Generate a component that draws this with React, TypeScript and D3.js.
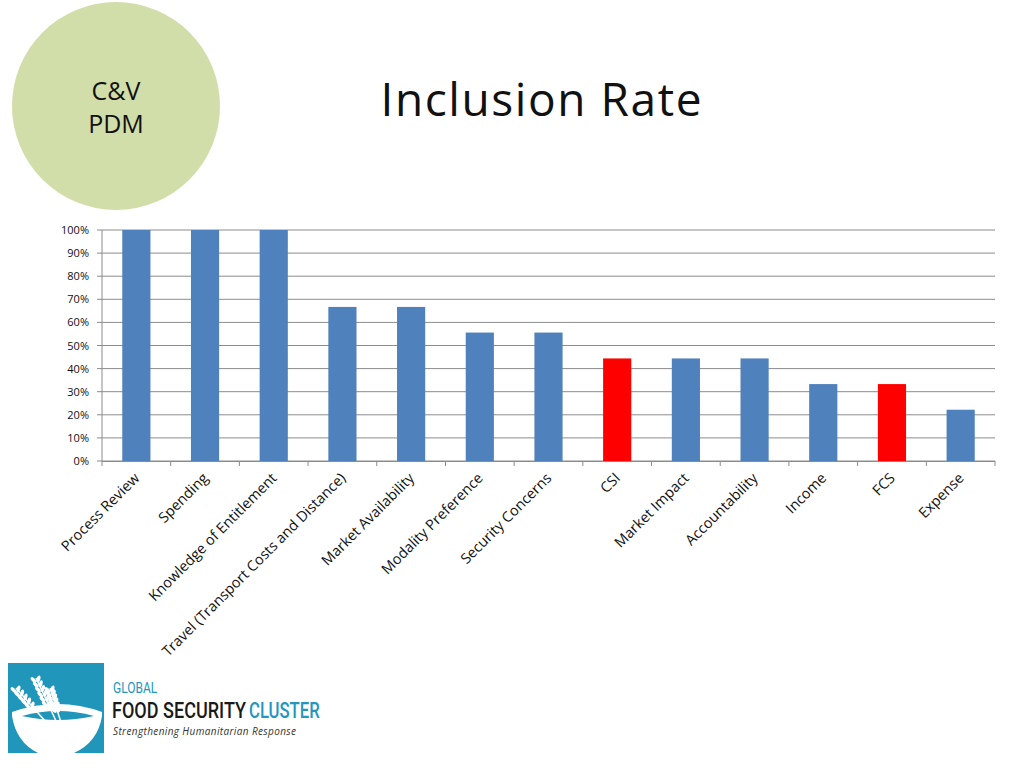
import React, { useEffect, useRef } from 'react';
import * as d3 from 'd3';

const categories = [
  'Process Review', 'Spending', 'Knowledge of Entitlement',
  'Travel (Transport Costs and Distance)', 'Market Availability',
  'Modality Preference', 'Security Concerns', 'CSI', 'Market Impact',
  'Accountability', 'Income', 'FCS', 'Expense',
];
const inclusionRate = [1, 1, 1, 0.667, 0.667, 0.556, 0.556, 0.444, 0.444, 0.444, 0.333, 0.333, 0.222];
const highlighted = ['CSI', 'FCS'];
const yTicks = [0, 0.1, 0.2, 0.3, 0.4, 0.5, 0.6, 0.7, 0.8, 0.9, 1];

const W = 1024;
const H = 768;
const FONT = 'Open Sans, Noto Sans, sans-serif';

const App: React.FC = () => {
  const svgRef = useRef<SVGSVGElement>(null);

  useEffect(() => {
    if (!svgRef.current) return;
    const svg = d3.select(svgRef.current);
    svg.selectAll('*').remove();

    // badge circle
    svg.append('circle').attr('cx', 116).attr('cy', 106).attr('r', 104).attr('fill', '#d2dea9');
    svg.append('text').attr('x', 116).attr('y', 100).attr('text-anchor', 'middle')
      .attr('font-family', FONT).attr('font-size', 25).attr('fill', '#111').text('C&V');
    svg.append('text').attr('x', 116).attr('y', 133).attr('text-anchor', 'middle')
      .attr('font-family', FONT).attr('font-size', 25).attr('fill', '#111').text('PDM');

    // title
    svg.append('text').attr('x', 541).attr('y', 116).attr('text-anchor', 'middle')
      .attr('font-family', FONT).attr('font-size', 46).attr('textLength', 321).attr('fill', '#111')
      .text('Inclusion Rate');

    // chart
    const left = 102, right = 995, top = 230, bottom = 461;
    const x = d3.scaleBand<string>().domain(categories).range([left, right]).paddingInner(0.59).paddingOuter(0.295);
    const xOuter = d3.scaleBand<string>().domain(categories).range([left, right]);
    const y = d3.scaleLinear().domain([0, 1]).range([bottom, top]);

    const g = svg.append('g');

    // gridlines + y ticks
    g.selectAll('line.grid').data(yTicks).join('line')
      .attr('x1', left - 5).attr('x2', right)
      .attr('y1', d => y(d)).attr('y2', d => y(d))
      .attr('stroke', '#8c8c8c').attr('stroke-width', 1);

    g.selectAll('text.ylab').data(yTicks).join('text')
      .attr('x', left - 13).attr('y', d => y(d) + 4)
      .attr('text-anchor', 'end').attr('font-family', FONT).attr('font-size', 11).attr('fill', '#111')
      .text(d => d3.format('.0%')(d));

    // y axis line
    g.append('line').attr('x1', left).attr('x2', left).attr('y1', top).attr('y2', bottom)
      .attr('stroke', '#8c8c8c');

    // bars
    g.selectAll('rect.bar').data(categories).join('rect')
      .attr('x', d => x(d)!)
      .attr('y', (d, i) => y(inclusionRate[i]))
      .attr('width', x.bandwidth())
      .attr('height', (d, i) => bottom - y(inclusionRate[i]))
      .attr('fill', d => (highlighted.includes(d) ? '#ff0000' : '#4f81bd'));

    // x axis ticks
    const bounds = categories.map(c => xOuter(c)!).concat([right]);
    g.selectAll('line.xtick').data(bounds).join('line')
      .attr('x1', d => d).attr('x2', d => d).attr('y1', bottom).attr('y2', bottom + 5)
      .attr('stroke', '#8c8c8c');
    g.append('line').attr('x1', left).attr('x2', right).attr('y1', bottom + 0.5).attr('y2', bottom + 0.5)
      .attr('stroke', '#8c8c8c');

    // x labels
    g.selectAll('text.xlab').data(categories).join('text')
      .attr('transform', d => `translate(${xOuter(d)! + xOuter.bandwidth() / 2 + 4},${bottom + 18}) rotate(-45)`)
      .attr('text-anchor', 'end').attr('font-family', FONT).attr('font-size', 14.5).attr('fill', '#111')
      .text(d => d);

    // logo
    const logo = svg.append('g');
    logo.append('rect').attr('x', 8).attr('y', 663).attr('width', 96).attr('height', 90).attr('fill', '#1f96ba');
    // bowl
    logo.append('path')
      .attr('d', 'M12,712 Q58,696 102,712 L102,716 Q98,742 74,753 L38,753 Q16,742 12,716 Z')
      .attr('fill', '#ffffff');
    logo.append('path')
      .attr('d', 'M22,716 Q58,706 94,716 Q58,724 22,716 Z')
      .attr('fill', '#1f96ba');
    // wheat stalks
    const stalks = [
      { x1: 16, y1: 688, x2: 60, y2: 738 },
      { x1: 36, y1: 678, x2: 64, y2: 738 },
      { x1: 50, y1: 688, x2: 66, y2: 738 },
    ];
    stalks.forEach(s => {
      logo.append('line').attr('x1', s.x1).attr('y1', s.y1).attr('x2', s.x2).attr('y2', s.y2)
        .attr('stroke', '#fff').attr('stroke-width', 1.5);
      for (let k = 0; k < 6; k++) {
        const t = k * 0.08;
        const cx = s.x1 + (s.x2 - s.x1) * t;
        const cy = s.y1 + (s.y2 - s.y1) * t;
        logo.append('ellipse').attr('cx', cx - 2.5).attr('cy', cy + 2).attr('rx', 1.8).attr('ry', 3.6)
          .attr('transform', `rotate(-45,${cx - 2.5},${cy + 2})`).attr('fill', '#fff');
        logo.append('ellipse').attr('cx', cx + 2.5).attr('cy', cy + 1).attr('rx', 1.8).attr('ry', 3.6)
          .attr('transform', `rotate(15,${cx + 2.5},${cy + 1})`).attr('fill', '#fff');
      }
    });

    const cond = 'Roboto, Liberation Sans Narrow, sans-serif';
    logo.append('text').attr('transform', 'translate(113,693) scale(0.8,1)').attr('font-family', cond)
      .attr('font-size', 15).attr('fill', '#2596be').text('GLOBAL');
    logo.append('text').attr('transform', 'translate(112,718) scale(0.82,1)').attr('font-family', cond)
      .attr('font-size', 22).attr('font-weight', 500).attr('fill', '#1a1a1a').text('FOOD SECURITY');
    logo.append('text').attr('transform', 'translate(249,718) scale(0.76,1)').attr('font-family', cond)
      .attr('font-size', 22).attr('font-weight', 500).attr('fill', '#2596be').text('CLUSTER');
    logo.append('text').attr('x', 113).attr('y', 735).attr('font-family', FONT).attr('font-style', 'italic')
      .attr('font-size', 10).attr('fill', '#333').attr('textLength', 183).text('Strengthening Humanitarian Response');
  }, []);

  return <svg ref={svgRef} width={W} height={H} style={{ display: 'block', position: 'absolute', left: 0, top: 0 }} />;
};

export default App;
